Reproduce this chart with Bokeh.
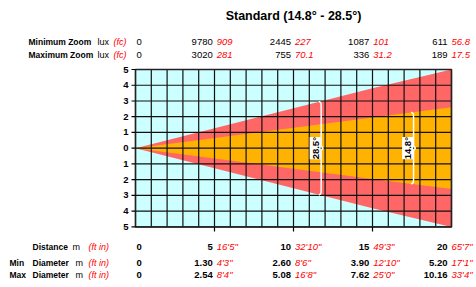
from bokeh.plotting import figure
from bokeh.models import Label, Range1d
from bokeh.embed import file_html
from bokeh.resources import INLINE

# ---- data ----
distances = [0, 5, 10, 15, 20]
dist_ft = ["", "16'5\"", "32'10\"", "49'3\"", "65'7\""]
min_lux = ["0", "9780", "2445", "1087", "611"]
min_fc = ["", "909", "227", "101", "56.8"]
max_lux = ["0", "3020", "755", "336", "189"]
max_fc = ["", "281", "70.1", "31.2", "17.5"]
min_diam = [0, 1.30, 2.60, 3.90, 5.20]
min_diam_ft = ["", "4'3\"", "8'6\"", "12'10\"", "17'1\""]
max_diam = [0, 2.54, 5.08, 7.62, 10.16]
max_diam_ft = ["", "8'4\"", "16'8\"", "25'0\"", "33'4\""]
angle_narrow = "14.8°"
angle_wide = "28.5°"
title_text = "Standard (14.8° - 28.5°)"
y_ticks = [-5, -4, -3, -2, -1, 0, 1, 2, 3, 4, 5]
y_tick_labels = [str(abs(t)) for t in y_ticks]

FONT = "Liberation Sans"
RED = "#FF0000"
W, H = 476, 287

# page pixels -> data coordinates (frame covers the whole canvas)
def dx(px):
    return (px - 135) / 15.8

def dy(py):
    return 5 - (py - 69) / 15.74

p = figure(width=W, height=H, x_range=Range1d(dx(0), dx(W)),
           y_range=Range1d(dy(H), dy(0)),
           output_backend="svg", toolbar_location=None,
           min_border=0)
p.axis.visible = False
p.grid.visible = False
p.outline_line_color = None
p.background_fill_color = "white"
p.border_fill_color = "white"

x0, x1 = distances[0], distances[-1]
y0, y1 = y_ticks[0], y_ticks[-1]

# plot area background
p.quad(left=x0, right=x1, bottom=y0, top=y1, fill_color="#CCFFFF", line_color=None)

# beams
def cone(diams):
    xs = list(distances) + list(reversed(distances))
    ys = [min(d / 2, y1) for d in diams] + [max(-d / 2, y0) for d in reversed(diams)]
    return xs, ys

xs, ys = cone(max_diam)
p.patch(xs, ys, fill_color="#FF6666", line_color=None)
xs, ys = cone(min_diam)
p.patch(xs, ys, fill_color="#FFB300", line_color=None)

# grid lines
gx = list(range(x0, x1 + 1))
p.segment(x0=gx, y0=[y0] * len(gx), x1=gx, y1=[y1] * len(gx),
          line_color="#111111", line_width=1.2)
p.segment(x0=[x0] * len(y_ticks), y0=y_ticks, x1=[x1] * len(y_ticks), y1=y_ticks,
          line_color="#111111", line_width=1.2)
# frame outline
p.quad(left=x0, right=x1, bottom=y0, top=y1, fill_color=None,
       line_color="#222222", line_width=1.5)

# y ticks and labels
p.segment(x0=[dx(131)] * len(y_ticks), y0=y_ticks, x1=[x0] * len(y_ticks), y1=y_ticks,
          line_color="black", line_width=1.2)
p.text(x=[dx(128)] * len(y_ticks), y=y_ticks, text=y_tick_labels,
       text_align="right", text_baseline="middle", text_font_size="9.5px",
       text_font_style="bold", text_color="black")
# bottom ticks
bt = distances[1:-1]
p.segment(x0=bt, y0=[y0] * len(bt), x1=bt, y1=[dy(231)] * len(bt),
          line_color="black", line_width=1.2)

# brackets with angle labels
def bracket(x, diams, label):
    h = x * diams[-1] / 2 / distances[-1]
    bx = [x - 0.15, x - 0.02, x, x, x + 0.12, x, x, x - 0.02, x - 0.15]
    by = [h, h - 0.1, h - 0.3, 0.15, 0, -0.15, -h + 0.3, -h + 0.1, -h]
    p.line(bx, by, line_color="white", line_width=1.5)
    p.add_layout(Label(x=x, y=0, x_offset=-6, text=label, angle=1.5708,
                       text_align="center", text_baseline="middle",
                       text_font=FONT, text_font_size="9.5px",
                       text_font_style="bold", text_color="black",
                       background_fill_color="white",
                       border_line_color=None))

bracket(11.75, max_diam, angle_wide)
bracket(17.6, min_diam, angle_narrow)

def lab(x, y, text, color="black", style="normal", size="9.5px",
        align="left", x_offset=0):
    p.add_layout(Label(x=x, y=y, text=text, text_color=color,
                       text_font=FONT, text_font_style=style,
                       text_font_size=size, text_align=align,
                       text_baseline="middle", x_offset=x_offset))

# title
lab(10, dy(15), title_text, style="bold", size="12.5px", align="center")

# value rows
def value_row(py, vals, reds, style="normal"):
    for d, v, r in zip(distances, vals, reds):
        if d == 0:
            lab(0, dy(py), v, style=style, x_offset=1)
            continue
        lab(d, dy(py), v, style=style, align="right", x_offset=-1 - 0.15 * d)
        lab(d, dy(py), r, color=RED, style="italic", x_offset=3 - 0.15 * d)

value_row(41, min_lux, min_fc)
value_row(54, max_lux, max_fc)

lab(dx(28), dy(41), "Minimum Zoom", style="bold", size="8.5px")
lab(dx(28), dy(54), "Maximum Zoom", style="bold", size="8.5px")
for py in (41, 54):
    lab(dx(97), dy(py), "lux", size="9px")
    lab(dx(113), dy(py), "(fc)", color=RED, style="italic", size="9px")

value_row(246, [str(d) for d in distances], dist_ft, style="bold")
value_row(262, ["0"] + ["%.2f" % v for v in min_diam[1:]], min_diam_ft, style="bold")
value_row(274, ["0"] + ["%.2f" % v for v in max_diam[1:]], max_diam_ft, style="bold")

lab(dx(32), dy(246), "Distance", style="bold", size="8.5px")
lab(dx(72), dy(246), "m", size="9px")
lab(dx(88), dy(246), "(ft in)", color=RED, style="italic", size="9px")
lab(dx(9), dy(262), "Min", style="bold", size="8.5px")
lab(dx(9), dy(274), "Max", style="bold", size="8.5px")
for py in (262, 274):
    lab(dx(32), dy(py), "Diameter", style="bold", size="8.5px")
    lab(dx(75), dy(py), "m", size="9px")
    lab(dx(88), dy(py), "(ft in)", color=RED, style="italic", size="9px")

open("out.html", "w").write(file_html(p, INLINE))
